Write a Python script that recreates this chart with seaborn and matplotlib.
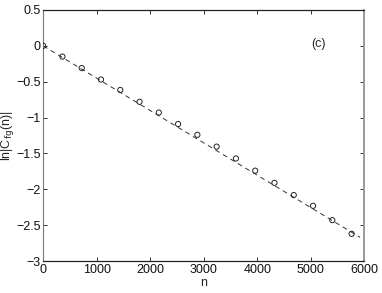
import matplotlib
matplotlib.use("Agg")
import matplotlib.pyplot as plt
import seaborn as sns
import numpy as np

# sampled points (open circles)
n_points = [0, 360, 720, 1080, 1440, 1800, 2160, 2520, 2880, 3240,
            3600, 3960, 4320, 4680, 5040, 5400, 5760]
ln_c = [0.0, -0.15, -0.31, -0.47, -0.615, -0.78, -0.93, -1.09, -1.24, -1.405,
        -1.57, -1.74, -1.91, -2.08, -2.23, -2.43, -2.62]

# dashed fit line end points
fit_n = [0, 5920]
fit_y = [0.0, -2.67]

sns.set_style("ticks")
plt.rcParams["font.family"] = ["Liberation Sans", "DejaVu Sans"]
plt.rcParams["axes.unicode_minus"] = True

fig = plt.figure(figsize=(3.82, 2.93), dpi=100)
ax = fig.add_axes([0.113, 0.109, 0.841, 0.857])

sns.lineplot(x=fit_n, y=fit_y, ax=ax, color="#333333", linewidth=0.7,
             linestyle=(0, (5, 4)))
sns.scatterplot(x=n_points, y=ln_c, ax=ax, marker="o", s=14,
                facecolor="none", edgecolor="#222222", linewidth=0.7,
                zorder=3)

ax.set_xlim(0, 6000)
ax.set_ylim(-3, 0.5)
ax.set_xticks(np.arange(0, 6001, 1000))
ax.set_yticks([-3, -2.5, -2, -1.5, -1, -0.5, 0, 0.5])
ax.set_yticklabels(["\u22123", "\u22122.5", "\u22122", "\u22121.5", "\u22121",
                    "\u22120.5", "0", "0.5"])

# matlab-like box: dark top/bottom, greyish sides
for side in ["top", "bottom"]:
    ax.spines[side].set_visible(True)
    ax.spines[side].set_linewidth(0.9)
    ax.spines[side].set_color("#222222")
ax.spines["left"].set_linewidth(0.8)
ax.spines["left"].set_color("#777777")
ax.spines["right"].set_visible(True)
ax.spines["right"].set_linewidth(1.4)
ax.spines["right"].set_color("#999999")
ax.tick_params(direction="in", length=3, width=0.6, top=True, right=True,
               labelsize=9, pad=2, colors="#111111")

ax.set_xlabel("n", fontsize=9, labelpad=1)
ax.set_ylabel(r"ln|C$_{\rm fg}$(n)|", fontsize=9)
ax.yaxis.set_label_coords(-0.086, 0.5)

ax.text(5150, 0.02, "(c)", fontsize=9, ha="center", va="center")

fig.savefig("out.png", dpi=100)
